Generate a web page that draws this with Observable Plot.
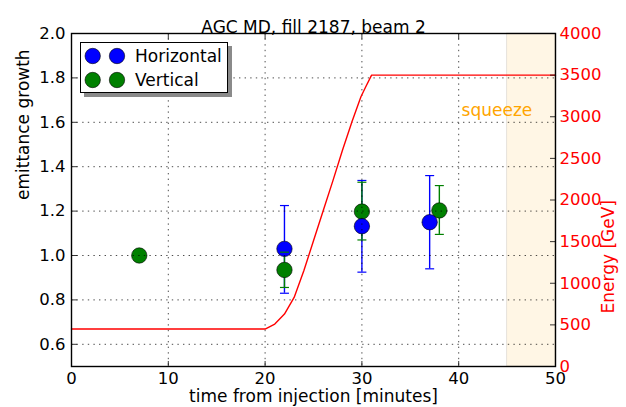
<!DOCTYPE html>
<html><head><meta charset="utf-8">
<script src="https://cdn.jsdelivr.net/npm/d3@7"></script>
<script src="https://cdn.jsdelivr.net/npm/@observablehq/plot@0.6"></script>
<style>
body{margin:0;background:#fff;font-family:"DejaVu Sans";}
#wrap{position:relative;width:626px;height:407px;}
#legend{position:absolute;left:80px;top:42px;width:146px;height:49px;background:#fff;border:1px solid #000;box-shadow:4px 4px 0 #8a8a8a;font-family:"DejaVu Sans";font-size:17px;color:#000;}
#legend .row{position:absolute;left:0;height:20px;display:flex;align-items:center;}
#legend svg{display:block;}
</style></head><body><div id="wrap"></div>
<script>
const title = "AGC MD, fill 2187, beam 2";
const xLabel = "time from injection [minutes]";
const yLabel = "emittance growth";
const y2Label = "Energy [GeV]";
const seriesNames = ["Horizontal", "Vertical"];
const seriesColors = ["blue", "green"];

const hTime  = [22, 30, 37];
const hValue = [1.03, 1.132, 1.15];
const hLow   = [0.83, 0.925, 0.94];
const hHigh  = [1.225, 1.338, 1.36];

const vTime  = [7, 22, 30, 38];
const vValue = [1.0, 0.935, 1.198, 1.203];
const vLow   = [1.0, 0.856, 1.07, 1.095];
const vHigh  = [1.0, 1.015, 1.33, 1.315];

const energyTime = [0, 20, 21, 22, 23, 24, 25, 26, 27, 28, 29, 29.9, 30.4, 31, 50];
const energyGeV  = [450, 450, 510, 630, 830, 1150, 1510, 1870, 2230, 2600, 2950, 3240, 3360, 3500, 3500];

const squeezeSpan = [45, 50];
const squeezeLabel = "squeeze";
const squeezeLabelTime = 40.3;
const squeezeLabelEnergy = 3000;

const xDomain = [0, 50];
const yDomain = [0.5, 2.0];
const energyDomain = [0, 4000];
const xTicks = [0, 10, 20, 30, 40, 50];
const yTicks = [0.6, 0.8, 1.0, 1.2, 1.4, 1.6, 1.8, 2.0];
const energyTicks = [0, 500, 1000, 1500, 2000, 2500, 3000, 3500, 4000];

// twin-axis mapping: energy -> left-axis units and back
const toY = e => yDomain[0] + (e - energyDomain[0]) / (energyDomain[1] - energyDomain[0]) * (yDomain[1] - yDomain[0]);
const fromY = y => energyDomain[0] + (y - yDomain[0]) / (yDomain[1] - yDomain[0]) * (energyDomain[1] - energyDomain[0]);

const mk = (t, v, lo, hi, s) => t.map((x, i) => ({x, v: v[i], lo: lo[i], hi: hi[i], s}));
const H = mk(hTime, hValue, hLow, hHigh, 0);
const V = mk(vTime, vValue, vLow, vHigh, 1);
const energy = energyTime.map((t, i) => ({t, e: energyGeV[i]}));

const lineSym = (dx, dy) => ({draw(ctx, size) { const r = Math.sqrt(size / Math.PI); ctx.moveTo(0, 0); ctx.lineTo(dx * r, dy * r); }});
const capSym = {draw(ctx, size) { const r = Math.sqrt(size / Math.PI); ctx.moveTo(-r, 0); ctx.lineTo(r, 0); }};

const errBars = (D) => Plot.ruleX(D.filter(d => d.hi > d.lo), {x: "x", y1: "lo", y2: "hi", stroke: seriesColors[D[0].s], strokeWidth: 1.4});
const caps = (D) => {
  const F = D.filter(d => d.hi > d.lo);
  return [
    Plot.dot(F, {x: "x", y: "lo", symbol: capSym, r: 4.5, fill: "none", stroke: seriesColors[D[0].s], strokeWidth: 1.2}),
    Plot.dot(F, {x: "x", y: "hi", symbol: capSym, r: 4.5, fill: "none", stroke: seriesColors[D[0].s], strokeWidth: 1.2})
  ];
};
const markers = (D) => Plot.dot(D, {x: "x", y: "v", r: 7.7, fill: seriesColors[D[0].s], stroke: "#000", strokeWidth: 0.6});
const dotted = {stroke: "#000", strokeWidth: 0.7, strokeDasharray: "1.4,4.2"};

const chart = Plot.plot({
  width: 626, height: 407,
  marginTop: 33, marginBottom: 41, marginLeft: 71, marginRight: 71,
  style: {fontFamily: "DejaVu Sans", fontSize: "17px", background: "white", color: "black"},
  x: {domain: xDomain},
  y: {domain: yDomain},
  marks: [
    Plot.rect([squeezeSpan], {x1: d => d[0], x2: d => d[1], y1: yDomain[0], y2: yDomain[1], fill: "orange", fillOpacity: 0.1, stroke: "black", strokeOpacity: 0.1}),
    errBars(H),
    errBars(V),
    markers(V),
    markers(H),
    ...caps(H),
    ...caps(V),
    Plot.ruleX(xTicks.filter(t => t > xDomain[0] && t < xDomain[1]), {x: d => d, ...dotted}),
    Plot.ruleY(yTicks.filter(t => t > yDomain[0] && t < yDomain[1]), {y: d => d, ...dotted}),
    Plot.line(energy, {x: "t", y: d => toY(d.e), stroke: "red", strokeWidth: 1.4}),
    Plot.text([squeezeLabel], {x: squeezeLabelTime, y: toY(squeezeLabelEnergy), text: d => d, textAnchor: "start", dy: -6, fill: "orange", fontSize: 17}),
    // inward ticks
    Plot.dot(yTicks, {y: d => d, frameAnchor: "left", symbol: lineSym(1, 0), r: 5.5, fill: "none", stroke: "black", strokeWidth: 0.8}),
    Plot.dot(energyTicks, {y: d => toY(d), frameAnchor: "right", symbol: lineSym(-1, 0), r: 5.5, fill: "none", stroke: "black", strokeWidth: 0.8}),
    Plot.dot(xTicks, {x: d => d, frameAnchor: "bottom", symbol: lineSym(0, -1), r: 5.5, fill: "none", stroke: "black", strokeWidth: 0.8}),
    Plot.dot(xTicks, {x: d => d, frameAnchor: "top", symbol: lineSym(0, 1), r: 5.5, fill: "none", stroke: "black", strokeWidth: 0.8}),
    Plot.frame({stroke: "black", strokeWidth: 1.4}),
    Plot.axisX(xTicks, {anchor: "bottom", tickSize: 0, tickPadding: 6, fontSize: 16.5, label: null, tickFormat: d => String(d)}),
    Plot.axisY(yTicks, {anchor: "left", tickSize: 0, tickPadding: 6, fontSize: 16.5, label: null, tickFormat: d3.format(".1f")}),
    Plot.axisY(energyTicks.map(toY), {anchor: "right", tickSize: 0, tickPadding: 4, fontSize: 16.5, label: null, fill: "red", tickFormat: d => String(Math.round(fromY(d)))}),
    Plot.text([title], {frameAnchor: "top", dy: -13, text: d => d, fontSize: 17}),
    Plot.text([xLabel], {frameAnchor: "bottom", dy: 35, text: d => d, fontSize: 17}),
    Plot.text([yLabel], {frameAnchor: "left", dx: -48, rotate: -90, text: d => d, fontSize: 17}),
    Plot.text([y2Label], {frameAnchor: "right", dx: 53, rotate: -90, text: d => d, fontSize: 17, fill: "red"})
  ]
});

const wrap = document.getElementById("wrap");
wrap.appendChild(chart);

// legend
const legend = document.createElement("div");
legend.id = "legend";
seriesNames.forEach((name, i) => {
  const row = document.createElement("div");
  row.className = "row";
  row.style.top = (2.5 + i * 24.7) + "px";
  const s = d3.create("svg").attr("width", 54).attr("height", 20);
  [11.7, 36].forEach(cx => s.append("circle").attr("cx", cx).attr("cy", 10).attr("r", 7.7)
    .attr("fill", seriesColors[i]).attr("stroke", "#000").attr("stroke-width", 0.6));
  row.appendChild(s.node());
  const lab = document.createElement("span");
  lab.textContent = name;
  row.appendChild(lab);
  legend.appendChild(row);
});
wrap.appendChild(legend);
</script>
</body></html>
